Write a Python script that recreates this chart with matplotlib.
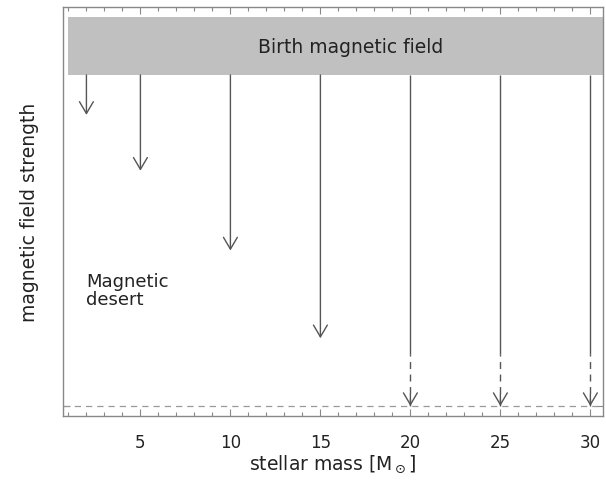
import matplotlib.pyplot as plt

# masses of the stars and where their field ends up
masses = [2, 5, 10, 15, 20, 25, 30]
field_end = [0.73, 0.59, 0.39, 0.17, 0.0, 0.0, 0.0]
dashed = [False, False, False, False, True, True, True]
dash_start = 0.13

# birth field band
birth_low = 0.83
birth_high = 0.975
birth_mass = [1, 30.7]

xticks = [5, 10, 15, 20, 25, 30]

fig = plt.figure(figsize=(6.06, 4.81), dpi=100)
ax = fig.add_axes([0.104, 0.133, 0.891, 0.85])

line_col = '#555555'
txt_col = '#222222'
ax.fill_between(birth_mass, birth_low, birth_high, color='#c0c0c0', lw=0)
ax.text(16.7, (birth_low + birth_high) / 2, 'Birth magnetic field', ha='center', va='center',
        fontsize=13.5, color=txt_col)

ax.axhline(0, ls=(0, (5, 4)), color='#999999', lw=0.9)

for m, end, d in zip(masses, field_end, dashed):
  if d:
    ax.vlines(m, dash_start, birth_low, color=line_col, lw=1)
    ax.vlines(m, end, dash_start, color=line_col, lw=1, linestyles=(0, (5, 4)))
    ax.annotate('', xy=(m, end), xytext=(m, end + 0.03),
                arrowprops=dict(arrowstyle='->,head_length=0.85,head_width=0.5',
                                color=line_col, lw=1, shrinkA=0, shrinkB=0))
  else:
    ax.annotate('', xy=(m, end), xytext=(m, birth_low),
                arrowprops=dict(arrowstyle='->,head_length=0.85,head_width=0.5',
                                color=line_col, lw=1, shrinkA=0, shrinkB=0))

ax.text(2.0, 0.29, 'Magnetic\ndesert', ha='left', va='center', fontsize=13,
        color=txt_col, linespacing=1.0)

ax.set_xlim(0.7, 30.7)
ax.set_ylim(-0.025, 1.0)
ax.set_xticks(xticks)
ax.set_xticks(range(1, 31), minor=True)
ax.set_yticks([0])
ax.set_yticklabels([])
ax.tick_params(which='both', direction='in', top=True, right=True, color='#888888', width=0.8)
ax.tick_params(which='major', length=5)
ax.tick_params(which='minor', length=3)
ax.tick_params(axis='x', which='major', labelsize=12, labelcolor=txt_col, pad=12)
for s in ax.spines.values():
  s.set_color('#888888')
  s.set_linewidth(1)

ax.set_xlabel(r'stellar mass $[\mathrm{M}_\odot]$', fontsize=13.5, color=txt_col, labelpad=1)
ax.set_ylabel('magnetic field strength', fontsize=13.5, color=txt_col, labelpad=14)

plt.savefig('out.png', dpi=100)
